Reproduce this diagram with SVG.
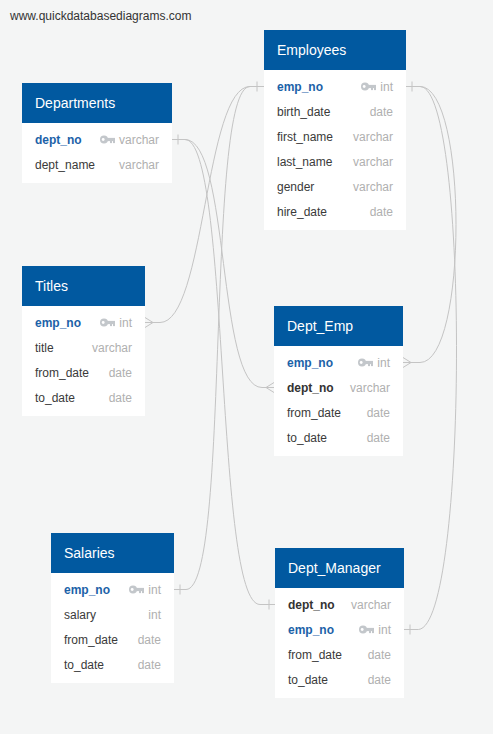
<svg xmlns="http://www.w3.org/2000/svg" xmlns:xlink="http://www.w3.org/1999/xlink" width="493" height="734" viewBox="0 0 493 734">
<style>
.bg{fill:#f4f5f5}
.hd{fill:#0159a0}
.bd{fill:#ffffff}
.tt{font-family:"Liberation Sans",Arial,sans-serif;font-size:14px;fill:#ffffff}
.f{font-family:"Liberation Sans",Arial,sans-serif;font-size:12px;fill:#3a3a3a}
.pk{font-weight:bold;fill:#1c62a8}
.fk{font-weight:bold;fill:#333333}
.ty{font-family:"Liberation Sans",Arial,sans-serif;font-size:12px;fill:#b0b0b0;text-anchor:end}
.url{font-family:"Liberation Sans",Arial,sans-serif;font-size:12px;fill:#333333}
.c{fill:none;stroke:#c4c4c4;stroke-width:1}
</style>
<defs>
<g id="key">
<circle cx="4" cy="0" r="4" fill="#c3c7cb"/>
<circle cx="3.2" cy="0" r="1.4" fill="#ffffff"/>
<rect x="7" y="-1.6" width="8" height="3.2" fill="#c3c7cb"/>
<rect x="10" y="1" width="2" height="2.6" fill="#c3c7cb"/>
<rect x="13" y="1" width="2" height="2.6" fill="#c3c7cb"/>
</g>
</defs>
<rect class="bg" x="0" y="0" width="493" height="734"/>
<text class="url" x="10" y="20">www.quickdatabasediagrams.com</text>

<g id="connectors">
<!-- Departments.dept_no -> Dept_Emp.dept_no -->
<path class="c" d="M172 139.5 H185 M178 134.5 V144.5"/>
<path class="c" d="M185 139.5 C230 139.5 217 387.5 262 387.5 H274 M274 382.5 L266 387.5 L274 392.5"/>
<!-- Departments.dept_no -> Dept_Manager.dept_no -->
<path class="c" d="M185 139.5 C230 139.5 215 604.5 260 604.5 H275 M269 599.5 V609.5"/>
<!-- Employees.emp_no left -->
<path class="c" d="M264 86.5 H250 M257 81.5 V91.5"/>
<!-- Titles.emp_no -> Employees.emp_no -->
<path class="c" d="M145 322.5 H160 C205 322.5 205 86.5 250 86.5 M145 317.5 L153 322.5 L145 327.5"/>
<!-- Salaries.emp_no -> Employees.emp_no -->
<path class="c" d="M174 589.5 H186 C231 589.5 205 86.5 250 86.5 M180 584.5 V594.5"/>
<!-- Employees.emp_no right -->
<path class="c" d="M406 86.5 H420 M412 81.5 V91.5"/>
<!-- Dept_Emp.emp_no -> Employees.emp_no -->
<path class="c" d="M420 86.5 C468 86.5 468 362.5 420 362.5 H403 M403 357.5 L411 362.5 L403 367.5"/>
<!-- Dept_Manager.emp_no -> Employees.emp_no -->
<path class="c" d="M420 86.5 C470 86.5 468 629.5 418 629.5 H404 M410 624.5 V634.5"/>
</g>

<g id="Departments">
<rect class="hd" x="22" y="83" width="150" height="40"/>
<rect class="bd" x="22" y="123" width="150" height="60"/>
<text class="tt" x="35" y="108">Departments</text>
<text class="f pk" x="35" y="143.7">dept_no</text>
<use xlink:href="#key" x="100" y="139.5"/>
<text class="ty" x="159" y="143.7">varchar</text>
<text class="f" x="35" y="168.7">dept_name</text>
<text class="ty" x="159" y="168.7">varchar</text>
</g>

<g id="Employees">
<rect class="hd" x="264" y="30" width="142" height="40"/>
<rect class="bd" x="264" y="70" width="142" height="160"/>
<text class="tt" x="277" y="55">Employees</text>
<text class="f pk" x="277" y="90.7">emp_no</text>
<use xlink:href="#key" x="361" y="86.5"/>
<text class="ty" x="393" y="90.7">int</text>
<text class="f" x="277" y="115.7">birth_date</text>
<text class="ty" x="393" y="115.7">date</text>
<text class="f" x="277" y="140.7">first_name</text>
<text class="ty" x="393" y="140.7">varchar</text>
<text class="f" x="277" y="165.7">last_name</text>
<text class="ty" x="393" y="165.7">varchar</text>
<text class="f" x="277" y="190.7">gender</text>
<text class="ty" x="393" y="190.7">varchar</text>
<text class="f" x="277" y="215.7">hire_date</text>
<text class="ty" x="393" y="215.7">date</text>
</g>

<g id="Titles">
<rect class="hd" x="22" y="266" width="123" height="40"/>
<rect class="bd" x="22" y="306" width="123" height="110"/>
<text class="tt" x="35" y="291">Titles</text>
<text class="f pk" x="35" y="326.7">emp_no</text>
<use xlink:href="#key" x="100" y="322.5"/>
<text class="ty" x="132" y="326.7">int</text>
<text class="f" x="35" y="351.7">title</text>
<text class="ty" x="132" y="351.7">varchar</text>
<text class="f" x="35" y="376.7">from_date</text>
<text class="ty" x="132" y="376.7">date</text>
<text class="f" x="35" y="401.7">to_date</text>
<text class="ty" x="132" y="401.7">date</text>
</g>

<g id="Dept_Emp">
<rect class="hd" x="274" y="306" width="129" height="40"/>
<rect class="bd" x="274" y="346" width="129" height="110"/>
<text class="tt" x="287" y="331">Dept_Emp</text>
<text class="f pk" x="287" y="366.7">emp_no</text>
<use xlink:href="#key" x="358" y="362.5"/>
<text class="ty" x="390" y="366.7">int</text>
<text class="f fk" x="287" y="391.7">dept_no</text>
<text class="ty" x="390" y="391.7">varchar</text>
<text class="f" x="287" y="416.7">from_date</text>
<text class="ty" x="390" y="416.7">date</text>
<text class="f" x="287" y="441.7">to_date</text>
<text class="ty" x="390" y="441.7">date</text>
</g>

<g id="Salaries">
<rect class="hd" x="51" y="533" width="123" height="40"/>
<rect class="bd" x="51" y="573" width="123" height="110"/>
<text class="tt" x="64" y="558">Salaries</text>
<text class="f pk" x="64" y="593.7">emp_no</text>
<use xlink:href="#key" x="129" y="589.5"/>
<text class="ty" x="161" y="593.7">int</text>
<text class="f" x="64" y="618.7">salary</text>
<text class="ty" x="161" y="618.7">int</text>
<text class="f" x="64" y="643.7">from_date</text>
<text class="ty" x="161" y="643.7">date</text>
<text class="f" x="64" y="668.7">to_date</text>
<text class="ty" x="161" y="668.7">date</text>
</g>

<g id="Dept_Manager">
<rect class="hd" x="275" y="548" width="129" height="40"/>
<rect class="bd" x="275" y="588" width="129" height="110"/>
<text class="tt" x="288" y="573">Dept_Manager</text>
<text class="f fk" x="288" y="608.7">dept_no</text>
<text class="ty" x="391" y="608.7">varchar</text>
<text class="f pk" x="288" y="633.7">emp_no</text>
<use xlink:href="#key" x="359" y="629.5"/>
<text class="ty" x="391" y="633.7">int</text>
<text class="f" x="288" y="658.7">from_date</text>
<text class="ty" x="391" y="658.7">date</text>
<text class="f" x="288" y="683.7">to_date</text>
<text class="ty" x="391" y="683.7">date</text>
</g>
</svg>
